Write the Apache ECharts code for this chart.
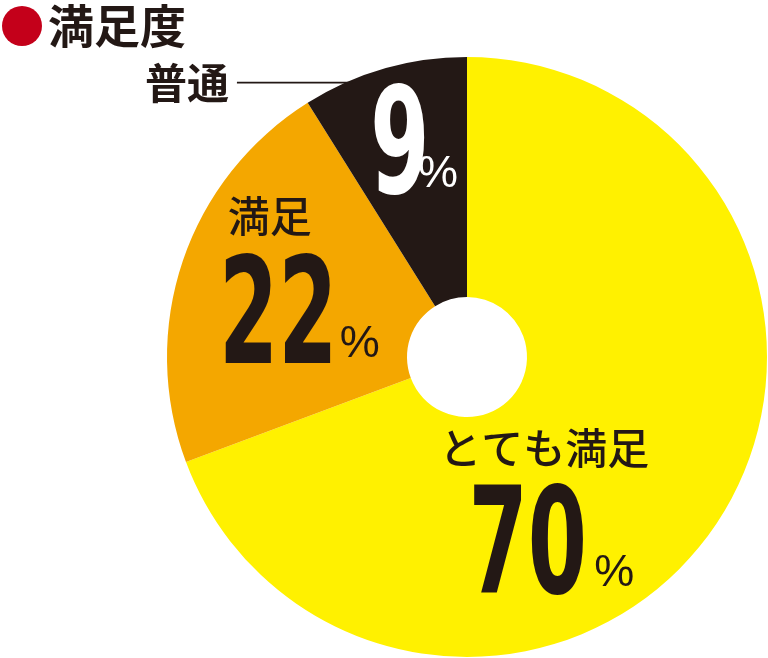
<!DOCTYPE html>
<html>
<head>
<meta charset="utf-8">
<script src="https://cdn.jsdelivr.net/npm/echarts@6/dist/echarts.min.js"></script>
<style>
html, body { margin: 0; padding: 0; background: #fff; }
#chart { width: 768px; height: 658px; }
</style>
</head>
<body>
<div id="chart"></div>
<script>
// 満足度アンケートの結果
const categories = ['とても満足', '満足', '普通'];
const values = [70, 22, 9];
const colors = ['#fff100', '#f4a700', '#231815'];
const titleText = '満足度';

// ラベル位置の微調整 (inside 位置からのずれ)
const numShift = [[-140, 93], [-24, 26], [-26, -27]];
const nameShift = [[-73, 89], [10, 23], [-115, -30]];

const JP = "'Noto Sans CJK JP', sans-serif";
const NUM = "'DejaVu Sans Condensed', 'Liberation Sans', sans-serif";
const INK = '#231815';
const NUM_SQUEEZE = 0.64; // 数字は縦長の書体に見せる

const numData = categories.map((name, i) => ({
    name: name,
    value: values[i],
    itemStyle: { color: colors[i] },
    label: { color: i === 2 ? '#fff' : INK }
}));

// 名前と「%」を重ねる透明なパイ
const pctTok = { fontFamily: "'Liberation Sans', sans-serif", fontSize: 45, align: 'left' };
const nameRich = [
    {
        name: { fontFamily: JP, fontWeight: 500, fontSize: 42, color: INK, lineHeight: 46, align: 'left' },
        pct: Object.assign({}, pctTok, { color: INK, lineHeight: 205, padding: [0, 0, 0, 155] })
    },
    {
        name: { fontFamily: JP, fontWeight: 500, fontSize: 42, color: INK, lineHeight: 46, align: 'left' },
        pct: Object.assign({}, pctTok, { color: INK, lineHeight: 211, padding: [0, 0, 0, 112] })
    },
    {
        name: { fontFamily: JP, fontWeight: 'bold', fontSize: 42, color: INK, lineHeight: 46, align: 'left', padding: [0, 8, 0, 0] },
        line: { width: 116, height: 1.6, backgroundColor: INK, align: 'left' },
        pct: Object.assign({}, pctTok, { color: '#fff', lineHeight: 137, padding: [0, 0, 0, 273] })
    }
];
const nameData = categories.map((name, i) => ({
    name: name,
    value: values[i],
    label: {
        formatter: i === 2 ? '{name|' + name + '}{line|}\n{pct|%}' : '{name|' + name + '}\n{pct|%}',
        rich: nameRich[i]
    }
}));

const chart = echarts.init(document.getElementById('chart'));

const option = {
    animation: false,
    title: {
        text: '{dot|}{t|' + titleText + '}',
        left: 2,
        top: 3,
        padding: 0,
        textStyle: {
            rich: {
                dot: { width: 40, height: 40, borderRadius: 20, backgroundColor: '#c4001a' },
                t: { fontFamily: JP, fontWeight: 'bold', fontSize: 46, color: INK, padding: [0, 0, 0, 6] }
            }
        }
    },
    series: [
        {
            type: 'pie',
            center: [467, 357],
            radius: [60, 300],
            startAngle: 90,
            clockwise: true,
            silent: true,
            data: numData,
            label: {
                show: true,
                position: 'inside',
                formatter: '{num|{c}}',
                rich: { num: { fontFamily: NUM, fontWeight: 'bold', fontSize: 148 } }
            },
            labelLine: { show: false },
            labelLayout: p => ({ dx: numShift[p.dataIndex][0], dy: numShift[p.dataIndex][1] })
        },
        {
            type: 'pie',
            center: [467, 357],
            radius: [60, 300],
            startAngle: 90,
            clockwise: true,
            silent: true,
            data: nameData,
            itemStyle: { color: 'rgba(0,0,0,0)' },
            label: { show: true, position: 'inside' },
            labelLine: { show: false },
            labelLayout: p => ({ dx: nameShift[p.dataIndex][0], dy: nameShift[p.dataIndex][1] })
        }
    ]
};

chart.setOption(option);

// 数字ラベルだけ横方向に縮める
const zr = chart.getZr();
zr.storage.getDisplayList(true).forEach(el => {
    const t = el.getTextContent && el.getTextContent();
    if (t && t.style && t.style.rich && t.style.rich.num) {
        t.scaleX = NUM_SQUEEZE;
        t.markRedraw();
    }
});
zr.refresh();
</script>
</body>
</html>
